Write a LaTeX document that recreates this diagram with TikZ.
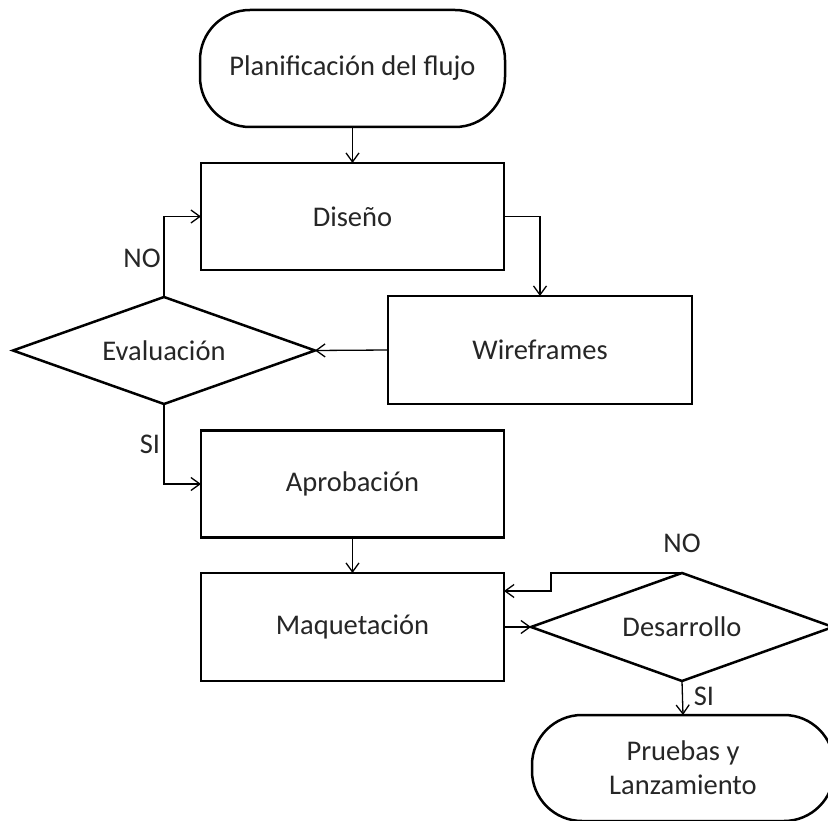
\documentclass[tikz,border=0pt]{standalone}
\usepackage{fontspec}
\setmainfont{Carlito}
\usetikzlibrary{shapes.geometric,arrows.meta}
\begin{document}
\begin{tikzpicture}[x=1pt,y=-1pt,
  txt/.style={font=\fontsize{28.5}{34}\selectfont, text=black!85},
  box/.style={draw, line width=2.5pt, rectangle, inner sep=0pt, outer sep=0pt, align=center, txt},
  term/.style={box, rounded corners=50pt},
  dec/.style={draw, line width=2.5pt, diamond, shape aspect=2.82, inner sep=0pt, outer sep=0pt, txt},
  conn/.style={line width=1.3pt, -{Straight Barb[length=9pt,width=13pt]}},
  lbl/.style={txt, inner sep=0pt}
]
\path[use as bounding box, clip] (0,0) rectangle (828,821);
\fill[white] (0,0) rectangle (828,821);

\node[term, minimum width=305pt, minimum height=117pt] (plan) at (352.5,68.5) {Planificación del flujo};
\node[box, minimum width=303pt, minimum height=107pt] (dis) at (352.5,216.5) {Diseño};
\node[box, minimum width=304pt, minimum height=108pt] (wire) at (540,350) {Wireframes};
\node[dec, minimum width=302pt, minimum height=107pt] (eva) at (164,350.5) {Evaluación};
\node[box, minimum width=303pt, minimum height=107pt] (apr) at (352.5,484) {Aprobación};
\node[box, minimum width=303pt, minimum height=108pt] (maq) at (352.5,627) {Maquetación};
\node[dec, minimum width=302pt, minimum height=108pt] (des) at (682,627) {Desarrollo};
\node[term, minimum width=302pt, minimum height=106pt] (pru) at (683,768) {Pruebas y\\Lanzamiento};

\draw[conn] (plan.south) -- (dis.north);
\draw[conn] (dis.east) -| (wire.north);
\draw[conn] (wire.west) -- (eva.east);
\draw[conn] (eva.north) |- (dis.west);
\draw[conn] (eva.south) |- (apr.west);
\draw[conn] (apr.south) -- (maq.north);
\draw[conn] (maq.east) -- (des.west);
\draw[conn] (des.north) -- ++(-131,0) |- ([yshift=-18pt]maq.north east);
\draw[conn] (des.south) -- (pru.north);

\node[lbl] (no1) at (142,258) {NO};
\node[lbl] (si1) at (150,444) {SI};
\node[lbl] (no2) at (682,543) {NO};
\node[lbl] (si2) at (704,696) {SI};
\end{tikzpicture}
\end{document}
